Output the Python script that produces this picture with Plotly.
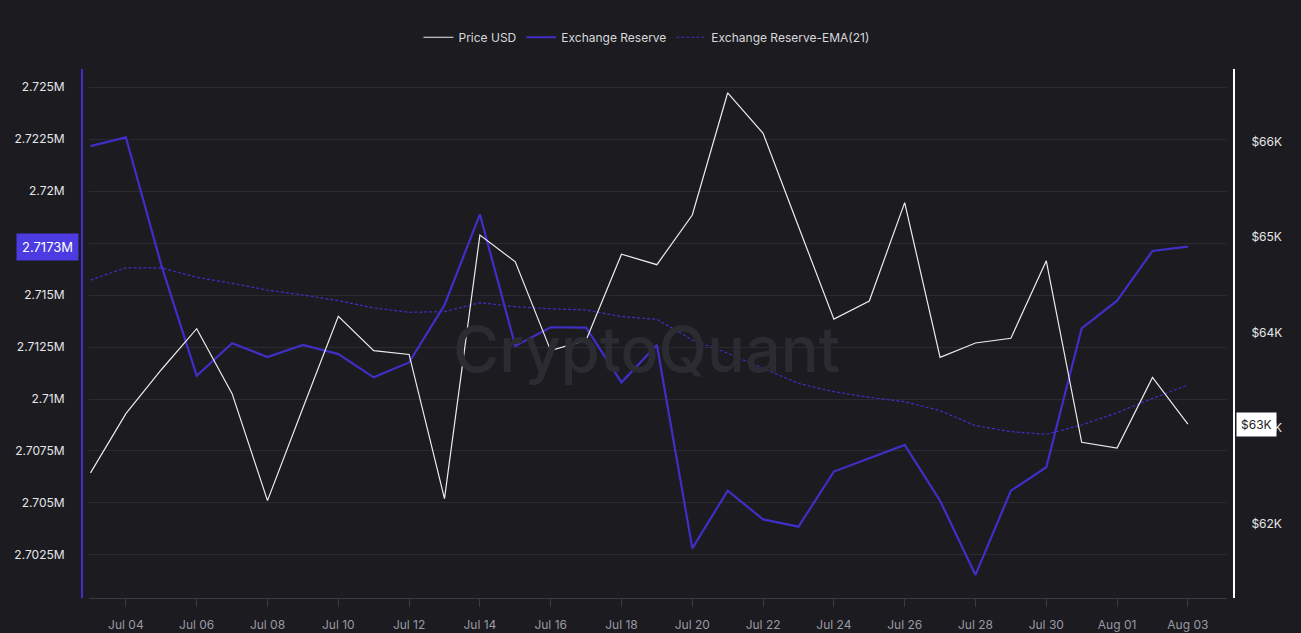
import pandas as pd
import plotly.graph_objects as go

# Daily dates, Jul 03 -> Aug 03
dates = pd.date_range('2024-07-03', '2024-08-03', freq='D')

# Price USD (right axis)
price_usd = [
    62530, 63150, 63610, 64040, 63360, 62240, 63210, 64170, 63810, 63770,
    62260, 65020, 64740, 63810, 63920, 64820, 64710, 65230, 66510, 66085,
    65110, 64140, 64330, 65360, 63740, 63890, 63940, 64750, 62850, 62790,
    63530, 63040,
]

# Exchange Reserve (left axis)
exchange_reserve = [
    2722160, 2722580, 2716440, 2711120, 2712680, 2712020, 2712600, 2712160, 2711040, 2711760,
    2714520, 2718880, 2712550, 2713450, 2713430, 2710800, 2712600, 2702820, 2705590, 2704210,
    2703860, 2706510, 2707150, 2707790, 2705110, 2701540, 2705590, 2706720, 2713400, 2714730,
    2717120, 2717330,
]

# Exchange Reserve EMA(21)
reserve_ema = [
    2715720, 2716310, 2716310, 2715850, 2715560, 2715240, 2715000, 2714730, 2714380, 2714170,
    2714200, 2714630, 2714440, 2714340, 2714280, 2713960, 2713830, 2712840, 2712200, 2711470,
    2710750, 2710350, 2710080, 2709870, 2709440, 2708720, 2708430, 2708300, 2708750, 2709340,
    2710030, 2710670,
]

price_ticks = [62000, 63000, 64000, 65000, 66000]
price_tick_text = ['$62K', '$63K', '$64K', '$65K', '$66K']

bg = '#1b1b20'
purple = '#3f2fc6'
font_family = 'Inter'

fig = go.Figure()

fig.add_trace(go.Scatter(
    x=dates, y=price_usd, name='Price USD', yaxis='y2',
    mode='lines', line=dict(color='#ececec', width=1.2),
))
fig.add_trace(go.Scatter(
    x=dates, y=exchange_reserve, name='Exchange Reserve',
    mode='lines', line=dict(color=purple, width=2.2),
))
fig.add_trace(go.Scatter(
    x=dates, y=reserve_ema, name='Exchange Reserve-EMA(21)',
    mode='lines', line=dict(color=purple, width=1.2, dash='3px,2px'),
))

# Watermark
fig.add_annotation(
    text='CryptoQuant', xref='paper', yref='paper', x=0.49, y=0.47,
    showarrow=False, font=dict(family=font_family, size=63, color='#2b2b32', weight=500),
)

# Last value markers
fig.add_annotation(
    text=f'{exchange_reserve[-1] / 1e6:.4f}M', xref='paper', yref='y',
    x=0, y=exchange_reserve[-1], xanchor='right', xshift=-3, showarrow=False,
    bgcolor='#4b3be0', borderpad=5, font=dict(family=font_family, size=13, color='white'),
)
fig.add_annotation(
    text=f'${price_usd[-1] / 1000:.0f}K', xref='paper', yref='y2',
    x=1, y=price_usd[-1], xanchor='left', xshift=2, showarrow=False,
    bgcolor='#ffffff', borderpad=4, font=dict(family=font_family, size=12, color='#222222'),
)

fig.update_layout(
    width=1301, height=633,
    paper_bgcolor=bg, plot_bgcolor=bg,
    font=dict(family=font_family, size=12, color='#d0d0d4'),
    margin=dict(l=82, r=67, t=69, b=35),
    hovermode=False,
    showlegend=True,
    legend=dict(
        orientation='h', x=0.49, xanchor='center', y=1.06, yanchor='middle',
        font=dict(size=12, color='#d8d8dc'), bgcolor='rgba(0,0,0,0)',
        itemwidth=30,
    ),
    xaxis=dict(
        type='date', domain=[0.0061, 0.9939], automargin=False,
        range=['2024-07-02 23:00', '2024-08-04 02:30'],
        tick0='2024-07-04', dtick=2 * 86400000, tickformat='%b %d',
        showgrid=False, showline=True, linecolor='#3a3a42', linewidth=1,
        ticks='outside', ticklen=8, tickcolor='#3a3a42', ticklabelstandoff=8,
        tickfont=dict(size=12, color='#9a9aa2'),
        zeroline=False,
    ),
    yaxis=dict(
        anchor='free', position=0, side='left', automargin=False,
        range=[2700430, 2725870], dtick=2500, tickformat='.5~s',
        showgrid=True, gridcolor='#2a2a30', gridwidth=1,
        showline=True, linecolor=purple, linewidth=2,
        ticks='', ticklabelstandoff=14,
        tickfont=dict(size=12, color='#e6e6ea'),
        zeroline=False,
    ),
    yaxis2=dict(
        anchor='free', position=1, side='right', overlaying='y', automargin=False,
        range=[61220, 66759], tickvals=price_ticks, ticktext=price_tick_text,
        showgrid=False, showline=True, linecolor='#ffffff', linewidth=2,
        ticks='', ticklabelstandoff=14,
        tickfont=dict(size=12, color='#e6e6ea'),
        zeroline=False,
    ),
)

fig.write_html('out.html', config={'displayModeBar': False},
               post_script="document.body.style.margin='0';")
